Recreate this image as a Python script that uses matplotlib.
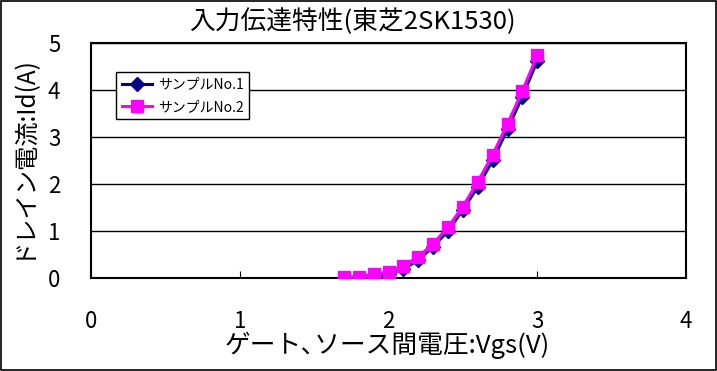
import matplotlib
matplotlib.use("Agg")
import matplotlib.pyplot as plt
from matplotlib.patches import Rectangle

plt.rcParams['font.family'] = ['Noto Sans CJK JP', 'DejaVu Sans']

vgs = [1.7, 1.8, 1.9, 2.0, 2.1, 2.2, 2.3, 2.4, 2.5, 2.6, 2.7, 2.8, 2.9, 3.0]
id_no1 = [0.0, 0.0, 0.02, 0.08, 0.19, 0.38, 0.67, 1.0, 1.45, 1.94, 2.50, 3.17, 3.86, 4.62]
id_no2 = [0.02, 0.03, 0.08, 0.13, 0.26, 0.45, 0.73, 1.08, 1.52, 2.05, 2.62, 3.28, 3.98, 4.74]
labels = ["サンプルNo.1", "サンプルNo.2"]
title = "入力伝達特性(東芝2SK1530)"
xlabel = "ゲート､ソース間電圧:Vgs(V)"
ylabel = "ドレイン電流:Id(A)"

fig = plt.figure(figsize=(7.17, 3.71), dpi=100)
fig.patches.append(Rectangle((0.001, 0.002), 0.997, 0.995, transform=fig.transFigure,
                             fill=False, edgecolor='black', linewidth=1.2))
ax = fig.add_axes([91/717, 1 - 278/371, (686-91)/717, (278-43)/371])

ax.plot(vgs, id_no1, color='#000080', marker='D', markersize=7, linewidth=2.2,
        label=labels[0], zorder=3)
ax.plot(vgs, id_no2, color='#FF00FF', marker='s', markersize=8, linewidth=2.2,
        label=labels[1], zorder=4)

ax.set_xlim(0, 4)
ax.set_ylim(0, 5)
ax.set_xticks([0, 1, 2, 3, 4])
ax.set_yticks([0, 1, 2, 3, 4, 5])
ax.grid(axis='y', color='black', linewidth=1)
ax.set_axisbelow(True)
for s in ax.spines.values():
    s.set_linewidth(1.5)
ax.tick_params(axis='x', direction='in', length=5, labelsize=16, pad=23)
ax.tick_params(axis='y', direction='in', length=0, labelsize=16, pad=22)

fig.text(352/717, 1 - 22/371, title, ha='center', va='center', fontsize=18.5)
fig.text(387/717, 1 - 345/371, xlabel, ha='center', va='center', fontsize=18.5)
fig.text(22/717, 1 - 156/371, ylabel, rotation=90, ha='center', va='center', fontsize=17.5)

leg = ax.legend(loc='upper left', bbox_to_anchor=((116-91)/595, (278-72)/235),
                fontsize=10, frameon=True, fancybox=False, framealpha=1,
                edgecolor='black', borderpad=0.4, handlelength=2.2, handletextpad=0.4,
                labelspacing=0.6, borderaxespad=0)
leg.get_frame().set_linewidth(1)

fig.savefig("out.png", dpi=100)
